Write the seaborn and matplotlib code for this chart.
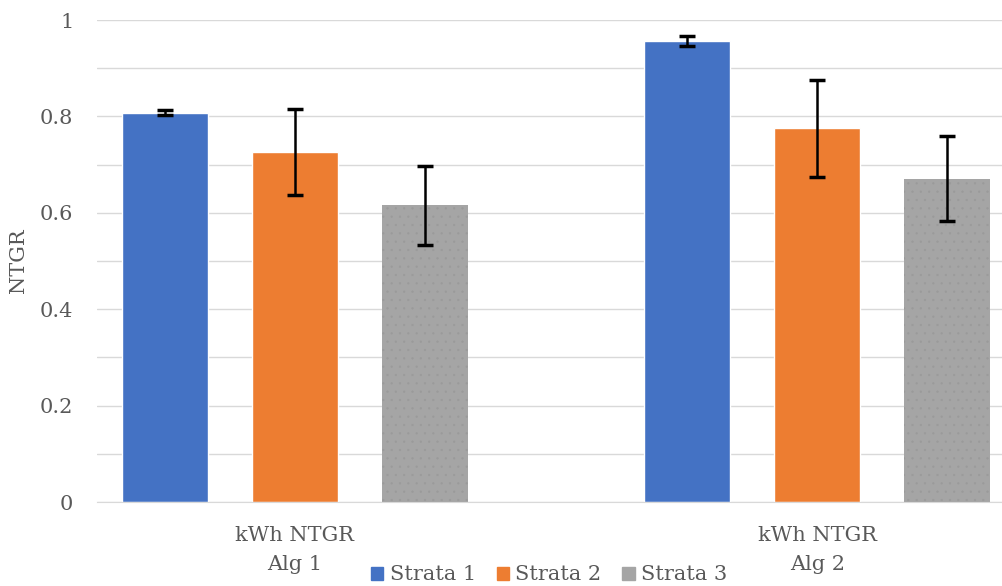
import matplotlib
matplotlib.use('Agg')
from matplotlib import pyplot as plt
import seaborn as sns
import pandas as pd

# values
groups = ["kWh NTGR\nAlg 1", "kWh NTGR\nAlg 2"]
strata = ["Strata 1", "Strata 2", "Strata 3"]
alg1_ntgr = [0.808, 0.726, 0.616]
alg2_ntgr = [0.956, 0.775, 0.671]
alg1_err = [0.006, 0.089, 0.082]
alg2_err = [0.010, 0.100, 0.088]
colors = ["#4472C4", "#ED7D31", "#A5A5A5"]

rows = []
for g, vals, errs in [(groups[0], alg1_ntgr, alg1_err), (groups[1], alg2_ntgr, alg2_err)]:
    for s, v, e in zip(strata, vals, errs):
        rows.append({"group": g, "strata": s, "NTGR": v, "err": e})
df = pd.DataFrame(rows)

sns.set_style("white")
plt.rcParams['font.family'] = ['DejaVu Serif']
plt.rcParams['hatch.linewidth'] = 0.4
text_color = "#595959"
fs = 15

fig = plt.figure(figsize=(10.02, 5.86), dpi=100)
ax = fig.add_axes([97 / 1002, 1 - 502 / 586, 1 - 97 / 1002, (502 - 20) / 586])

sns.barplot(data=df, x="group", y="NTGR", hue="strata", hue_order=strata,
            palette=colors, width=0.747, gap=0.338, errorbar=None,
            saturation=1, ax=ax, legend=True)

# error bars on top of the bars, at the centres seaborn placed them
for container, s in zip(ax.containers, strata):
    sub = df[df["strata"] == s]
    xs = [p.get_x() + p.get_width() / 2 for p in container.patches]
    ax.errorbar(xs, sub["NTGR"], yerr=sub["err"], fmt="none", ecolor="black",
                elinewidth=1.8, capsize=5.5, capthick=2.5, zorder=5)

# faint dotted texture on the grey bars
for p in ax.containers[2].patches:
    p.set_hatch("..")
    p.set_edgecolor("#9a9a9a")
    p.set_linewidth(0)

ax.set_ylim(0, 1)
ax.set_xlim(-0.379, 1.354)
ax.set_yticks([i / 10 for i in range(11)])
ax.set_yticklabels(["0", "", "0.2", "", "0.4", "", "0.6", "", "0.8", "", "1"])
ax.grid(axis="y", color="#d9d9d9", linewidth=1)
ax.set_axisbelow(True)
for side in ["top", "right", "left"]:
    ax.spines[side].set_visible(False)
ax.spines["bottom"].set_color("#d9d9d9")
ax.tick_params(axis="y", length=0, pad=17, labelsize=fs, labelcolor=text_color)
ax.tick_params(axis="x", length=0, pad=17, labelsize=fs, labelcolor=text_color)
for lab in ax.get_xticklabels():
    lab.set_linespacing(1.7)
ax.set_xlabel("")
ax.set_ylabel("NTGR", fontsize=fs, color=text_color, labelpad=9)

leg = ax.get_legend()
leg.remove()
handles = [plt.Rectangle((0, 0), 1, 1, color=c) for c in colors]
fig.legend(handles, strata, loc="center", bbox_to_anchor=(0.548, 1 - 575 / 586),
           ncol=3, frameon=False, fontsize=fs, labelcolor=text_color,
           handlelength=0.6, handleheight=0.6, handletextpad=0.3,
           columnspacing=1.0, borderpad=0)

fig.savefig("out.png", dpi=100)
